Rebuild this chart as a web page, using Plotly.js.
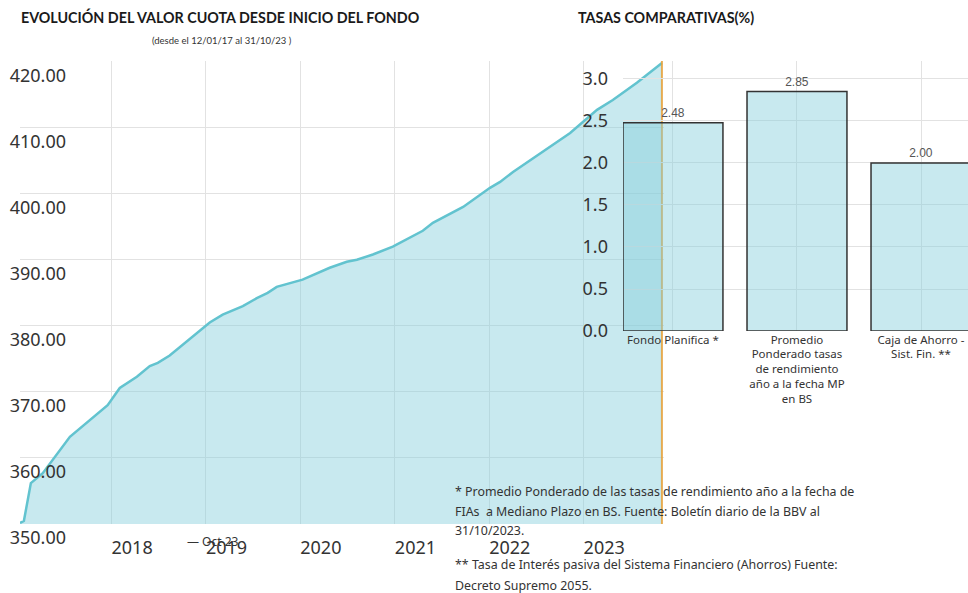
<!DOCTYPE html>
<html><head><meta charset="utf-8">
<script src="https://cdn.plot.ly/plotly-3.0.1.min.js"></script>
<style>html,body{margin:0;padding:0;background:#fff}#chart{width:968px;height:593px}</style>
</head><body><div id="chart"></div>
<script>
// ---- data ----
const fechas = ['2017-01-12','2017-01-27','2017-02-23','2017-04-10','2017-07-24','2017-10-09','2017-12-17',
  '2018-02-02','2018-04-09','2018-05-29','2018-06-29','2018-08-14','2018-10-03','2018-11-27',
  '2019-01-16','2019-03-07','2019-05-01','2019-05-24','2019-07-17','2019-08-28','2019-10-02','2019-12-18',
  '2020-01-10','2020-04-24','2020-06-29','2020-08-07','2020-10-08','2020-12-24',
  '2021-02-28','2021-04-19','2021-05-28','2021-09-22',
  '2022-01-04','2022-02-12','2022-04-03','2022-07-28','2022-11-10',
  '2023-02-22','2023-04-24','2023-07-26','2023-10-23','2023-10-31'];
const valorCuota = [350.15,350.45,356.2,357.7,363.2,365.8,368.0,
  370.6,372.3,373.9,374.4,375.5,377.1,378.9,
  380.5,381.7,382.7,383.0,384.2,385.0,385.9,386.7,
  387.0,388.8,389.7,390.0,390.8,392.0,
  393.3,394.4,395.6,398.0,
  400.9,401.8,403.3,406.4,409.2,
  412.7,414.2,416.8,419.5,419.8];
const fechaFinal = '2023-10-31';
const anios = ['2018-01-01','2019-01-01','2020-01-01','2021-01-01','2022-01-01','2023-01-01'];
const aniosTexto = ['2018','2019','2020','2021','2022','2023'];
const ticksCuota = [350,360,370,380,390,400,410,420];
const ticksCuotaTexto = ['350.00','360.00','370.00','380.00','390.00','400.00','410.00','420.00'];

const categorias = ['Fondo Planifica *',
  'Promedio<br>Ponderado tasas<br>de rendimiento<br>año a la fecha MP<br>en BS',
  'Caja de Ahorro -<br>Sist. Fin. **'];
const tasas = [2.48, 2.85, 2.00];
const tasasTexto = ['2.48','2.85','2.00'];

// ---- layout helpers ----
const W = 968, H = 593;
const px = x => x / W;
const py = y => (H - y) / H;
const FONT = 'Noto Sans, Open Sans, sans-serif';

const traces = [
  {
    type: 'scatter', mode: 'lines', x: fechas, y: valorCuota,
    xaxis: 'x', yaxis: 'y',
    line: {color: '#62c3cf', width: 2.5},
    fill: 'tozeroy', fillcolor: 'rgba(133,206,219,0.45)',
    hoverinfo: 'skip', showlegend: false
  },
  {
    type: 'bar', x: categorias, y: tasas, xaxis: 'x2', yaxis: 'y2',
    width: 0.806,
    marker: {color: 'rgba(133,206,219,0.45)', line: {color: '#333', width: 1.5}},
    text: tasasTexto, textposition: 'outside', cliponaxis: false,
    textfont: {family: 'Liberation Sans, Arial, sans-serif', size: 12, color: '#555'},
    hoverinfo: 'skip', showlegend: false
  },
  {
    // vertical marker at the last date (hover spike in the reference)
    type: 'scatter', mode: 'lines', x: [fechaFinal, fechaFinal], y: [350, 420.1],
    xaxis: 'x', yaxis: 'y', cliponaxis: false,
    line: {color: 'rgba(230,160,55,0.85)', width: 2},
    hoverinfo: 'skip', showlegend: false
  }
];

const layout = {
  width: W, height: H,
  margin: {l: 0, r: 0, t: 0, b: 0},
  paper_bgcolor: '#fff', plot_bgcolor: 'rgba(0,0,0,0)',
  showlegend: false,
  font: {family: FONT, color: '#333'},
  xaxis: {
    domain: [px(20), px(664)], anchor: 'y', type: 'date',
    range: ['2017-01-12', '2023-11-08'],
    tickvals: anios, ticktext: aniosTexto,
    ticklabelposition: 'outside right', ticklabelstandoff: 11,
    tickfont: {size: 18, color: '#333', family: FONT},
    showgrid: true, gridcolor: '#e2e2e2', gridwidth: 1,
    zeroline: false, showline: false, ticks: '', fixedrange: true
  },
  yaxis: {
    domain: [py(524), py(61)], anchor: 'x',
    range: [350, 420.1],
    tickvals: ticksCuota, ticktext: ticksCuotaTexto,
    tickfont: {size: 18, color: '#333', family: FONT},
    ticklabelstandoff: -47, ticklabelshift: 14,
    showgrid: true, gridcolor: '#e2e2e2', gridwidth: 1,
    zeroline: false, showline: false, ticks: '', fixedrange: true
  },
  xaxis2: {
    domain: [px(623), 1], anchor: 'y2', type: 'category',
    range: [-0.403, 2.379],
    tickfont: {size: 11.5, color: '#333', family: FONT},
    showgrid: true, gridcolor: '#e2e2e2',
    zeroline: false, showline: false, ticks: '', fixedrange: true
  },
  yaxis2: {
    domain: [py(331), py(61)], anchor: 'x2',
    range: [0, 3.214], dtick: 0.5, tick0: 0, tickformat: '.1f',
    tickfont: {size: 18, color: '#333', family: FONT},
    ticklabelstandoff: 14,
    showgrid: true, gridcolor: '#e2e2e2',
    zeroline: false, showline: false, ticks: '', fixedrange: true
  },
  annotations: [
    {text: '<b>EVOLUCIÓN DEL VALOR CUOTA DESDE INICIO DEL FONDO</b>', xref: 'paper', yref: 'paper',
     x: px(19), y: py(17), xanchor: 'left', yanchor: 'middle', showarrow: false,
     font: {family: 'Lato, sans-serif', size: 14.3, color: '#1a1a1a'}},
    {text: '(desde el 12/01/17 al 31/10/23 )', xref: 'paper', yref: 'paper',
     x: px(150), y: py(40), xanchor: 'left', yanchor: 'middle', showarrow: false,
     font: {family: 'Lato, sans-serif', size: 9.5, color: '#333'}},
    {text: '<b>TASAS COMPARATIVAS(%)</b>', xref: 'paper', yref: 'paper',
     x: px(576), y: py(17), xanchor: 'left', yanchor: 'middle', showarrow: false,
     font: {family: 'Lato, sans-serif', size: 14.3, color: '#1a1a1a'}},
    {text: '— Oct 23', xref: 'paper', yref: 'paper',
     x: px(185), y: py(541), xanchor: 'left', yanchor: 'middle', showarrow: false,
     font: {family: FONT, size: 12, color: '#333'}},
    {text: '* Promedio Ponderado de las tasas de rendimiento año a la fecha de', xref: 'paper', yref: 'paper',
     x: px(453), y: py(491), xanchor: 'left', yanchor: 'middle', showarrow: false,
     font: {family: FONT, size: 12.4, color: '#333'}},
    {text: 'FIAs  a Mediano Plazo en BS. Fuente: Boletín diario de la BBV al', xref: 'paper', yref: 'paper',
     x: px(453), y: py(511), xanchor: 'left', yanchor: 'middle', showarrow: false,
     font: {family: FONT, size: 12.4, color: '#333'}},
    {text: '31/10/2023.', xref: 'paper', yref: 'paper',
     x: px(453), y: py(530), xanchor: 'left', yanchor: 'middle', showarrow: false,
     font: {family: FONT, size: 12.4, color: '#333'}},
    {text: '** Tasa de Interés pasiva del Sistema Financiero (Ahorros) Fuente:', xref: 'paper', yref: 'paper',
     x: px(453), y: py(564), xanchor: 'left', yanchor: 'middle', showarrow: false,
     font: {family: FONT, size: 12.4, color: '#333'}},
    {text: 'Decreto Supremo 2055.', xref: 'paper', yref: 'paper',
     x: px(453), y: py(585), xanchor: 'left', yanchor: 'middle', showarrow: false,
     font: {family: FONT, size: 12.4, color: '#333'}}
  ]
};

Plotly.newPlot('chart', traces, layout, {displayModeBar: false, staticPlot: true});
</script>
</body></html>
